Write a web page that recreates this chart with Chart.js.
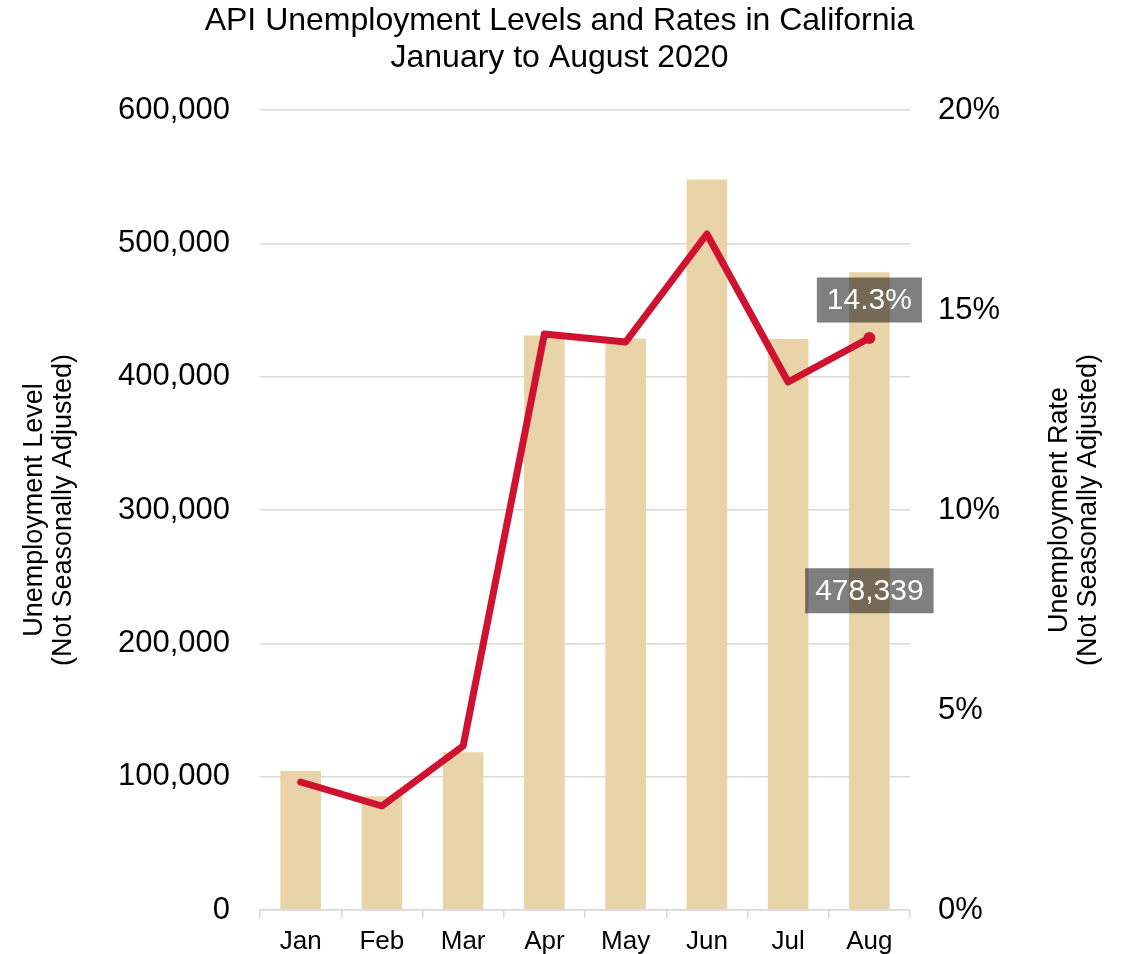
<!DOCTYPE html>
<html>
<head>
  <title>API Unemployment in California</title>
  <script src="https://cdn.jsdelivr.net/npm/chart.js"></script>
  <style>
    body { margin: 0; background: #fff; overflow: hidden; }
    #chart { display: block; }
  </style>
</head>
<body>
  <canvas id="chart" width="1125" height="954"></canvas>

  <script>
    let months = ["Jan", "Feb", "Mar", "Apr", "May", "Jun", "Jul", "Aug"];
    let levels = [104200, 85300, 118300, 430800, 428600, 547800, 428300, 478339];
    let rates = [3.2, 2.6, 4.1, 14.4, 14.2, 16.9, 13.2, 14.3];
    let titleLines = ["API Unemployment Levels and Rates in California", "January to August 2020"];
    let leftTitle = ["Unemployment Level", "(Not Seasonally Adjusted)"];
    let rightTitle = ["Unemployment Rate", "(Not Seasonally Adjusted)"];

    let fontFamily = "'Liberation Sans', Arial, sans-serif";
    let gridColor = "#D9D9D9";

    // titles and the two callout labels
    let textPlugin = {
      id: "textPlugin",
      afterDraw(chart) {
        let ctx = chart.ctx;
        let area = chart.chartArea;
        ctx.save();
        ctx.fillStyle = "#000";
        ctx.textAlign = "center";
        ctx.textBaseline = "middle";
        ctx.font = "32px " + fontFamily;
        ctx.fillText(titleLines[0], chart.width / 2 - 3, 21);
        ctx.fillText(titleLines[1], chart.width / 2 - 3, 58);

        let midY = (area.top + area.bottom) / 2;
        ctx.font = "27px " + fontFamily;
        drawRotated(ctx, leftTitle, 35, midY, 29);
        drawRotated(ctx, rightTitle, 1060, midY, 29);

        let last = months.length - 1;
        let pt = chart.getDatasetMeta(0).data[last];
        let bar = chart.getDatasetMeta(1).data[last];
        ctx.font = "30px " + fontFamily;
        drawBox(ctx, rates[last].toFixed(1) + "%", pt.x, pt.y - 38);
        drawBox(ctx, levels[last].toLocaleString("en-US"), bar.x, (bar.y + bar.base) / 2);
        ctx.restore();
      }
    };

    function drawRotated(ctx, lines, x, y, step) {
      lines.forEach(function (line, i) {
        ctx.save();
        ctx.translate(x + i * step, y);
        ctx.rotate(-Math.PI / 2);
        ctx.fillText(line, 0, 0);
        ctx.restore();
      });
    }

    function drawBox(ctx, text, cx, cy) {
      let w = ctx.measureText(text).width + 20;
      let h = 45;
      ctx.fillStyle = "rgba(0, 0, 0, 0.5)";
      ctx.fillRect(cx - w / 2, cy - h / 2, w, h);
      ctx.fillStyle = "#fff";
      ctx.fillText(text, cx, cy + 1);
    }

    new Chart(document.getElementById("chart"), {
      type: "bar",
      data: {
        labels: months,
        datasets: [{
          type: "line",
          label: "Unemployment Rate",
          data: rates,
          yAxisID: "y1",
          borderColor: "#CE1230",
          backgroundColor: "#CE1230",
          borderWidth: 7,
          borderJoinStyle: "round",
          borderCapStyle: "round",
          tension: 0,
          pointRadius: function (c) { return c.dataIndex === months.length - 1 ? 6 : 0; },
          pointBorderWidth: 0,
          pointHoverRadius: 0,
          order: 0
        }, {
          label: "Unemployment Level",
          data: levels,
          yAxisID: "y",
          backgroundColor: "#E9D3A8",
          barPercentage: 0.5,
          categoryPercentage: 1,
          order: 1
        }]
      },
      options: {
        responsive: false,
        animation: false,
        layout: { padding: { top: 110, left: 0, right: 0, bottom: 0 } },
        plugins: {
          legend: { display: false },
          title: { display: false },
          tooltip: { enabled: false }
        },
        scales: {
          x: {
            grid: { offset: true, drawOnChartArea: false, drawTicks: true, tickLength: 8, color: gridColor, lineWidth: 1.5 },
            border: { display: true, color: gridColor, width: 1.5 },
            ticks: { color: "#000", padding: 12, font: { family: fontFamily, size: 26, lineHeight: 0.9 } },
            afterFit(scale) { scale.height = 44; }
          },
          y: {
            position: "left",
            min: 0,
            max: 600000,
            ticks: {
              stepSize: 100000,
              color: "#000",
              padding: 0,
              font: { family: fontFamily, size: 31 },
              callback: function (v) { return v.toLocaleString("en-US"); }
            },
            // invisible tick marks keep the labels away from the plot
            grid: { color: gridColor, lineWidth: 1.5, drawTicks: true, tickLength: 30, tickColor: "rgba(0,0,0,0)" },
            border: { display: false },
            afterFit(scale) { scale.width = 260; }
          },
          y1: {
            position: "right",
            min: 0,
            max: 20,
            ticks: {
              stepSize: 5,
              color: "#000",
              padding: 0,
              font: { family: fontFamily, size: 31 },
              callback: function (v) { return v + "%"; }
            },
            grid: { drawOnChartArea: false, drawTicks: true, tickLength: 28, tickColor: "rgba(0,0,0,0)" },
            border: { display: false },
            afterFit(scale) { scale.width = 215; }
          }
        }
      },
      plugins: [textPlugin]
    });
  </script>
</body>
</html>
